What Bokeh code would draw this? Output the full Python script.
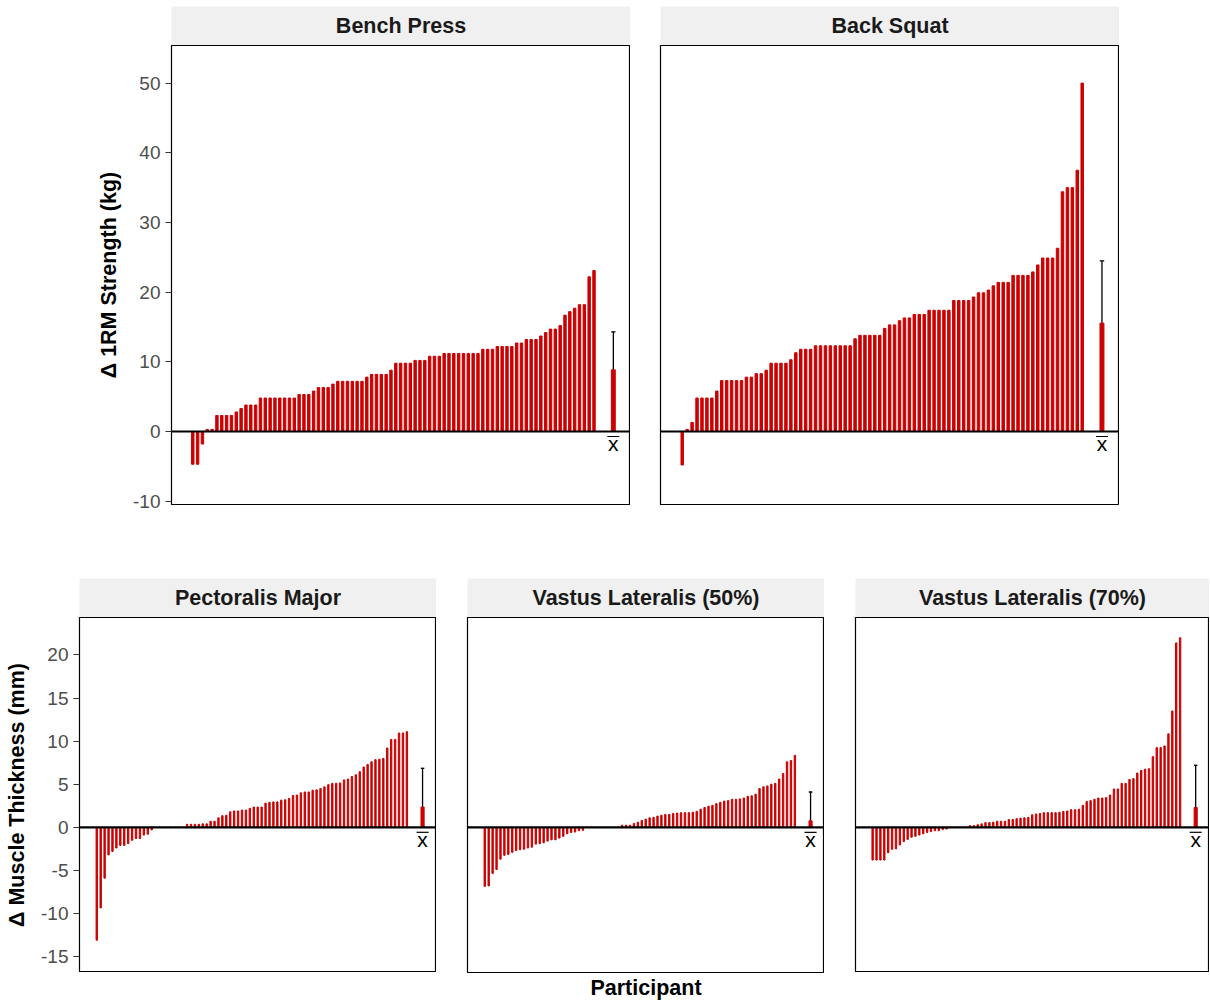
import numpy as np
from bokeh.plotting import figure
from bokeh.layouts import column, row
from bokeh.models import Spacer, FixedTicker, Span
from bokeh.embed import file_html
from bokeh.resources import INLINE
from bokeh.core.properties import value

FONT = "Liberation Sans"
RED = "#CC0000"
STRIP = "#F0F0F0"

# ---------------- data ----------------
bench = ([-4.7, -4.7, -1.8, 0.3, 0.3] + [2.3] * 4 + [2.8, 3.3] + [3.8] * 3 + [4.8] * 8
         + [5.3] * 3 + [5.8] + [6.3] * 3 + [6.8] + [7.2] * 6 + [7.8] + [8.2] * 4 + [8.8]
         + [9.8] * 4 + [10.2] * 3 + [10.8] * 3 + [11.2] * 8 + [11.8] * 3 + [12.2] * 4
         + [12.7] * 2 + [13.2] * 3 + [13.7, 14.2] + [14.7] * 2 + [15.2, 16.7, 17.2, 17.7]
         + [18.2] * 2 + [22.2, 23.1])
squat = ([-4.8, 0.3, 1.3] + [4.8] * 4 + [5.8] + [7.3] * 5 + [7.8] * 2 + [8.3] * 2 + [8.8]
         + [9.8] * 4 + [10.3, 11.3] + [11.8] * 3 + [12.3] * 8 + [13.3] + [13.8] * 5 + [14.8]
         + [15.3] * 2 + [15.9] + [16.3] * 2 + [16.8] * 3 + [17.4] * 5 + [18.8] * 4 + [19.3]
         + [19.9] * 2 + [20.3, 20.9] + [21.4] * 3 + [22.4] * 4 + [22.9, 23.9] + [24.9] * 3
         + [26.3, 34.4, 35.0, 35.0, 37.5, 50.0])
pect = ([-13.1, -9.35, -5.9, -3.2, -2.8, -2.4, -2.1, -2.1, -1.9, -1.5, -1.3, -1.3, -0.9, -0.8, -0.3]
        + [0.0] * 8
        + [0.35, 0.35, 0.35, 0.35, 0.4, 0.4, 0.7, 0.7, 1.1, 1.35, 1.4, 1.8, 1.9, 1.9, 2.0, 2.0, 2.2,
           2.35, 2.35, 2.35, 2.8, 2.9, 2.95, 2.95, 3.15, 3.2, 3.35, 3.7, 3.75, 4.0, 4.1, 4.1, 4.3,
           4.35, 4.5, 4.7, 4.95, 5.1, 5.1, 5.15, 5.5, 5.6, 5.9, 6.1, 6.45, 7.0, 7.3, 7.6, 7.85, 7.9,
           8.0, 9.2, 10.2, 10.2, 10.95, 10.95, 11.1])
vl50 = ([-6.85, -6.8, -5.35, -4.9, -3.7, -3.25, -3.15, -2.9, -2.7, -2.6, -2.55, -2.4, -2.3, -1.95,
         -1.9, -1.8, -1.6, -1.45, -1.45, -1.25, -1.05, -0.75, -0.6, -0.55, -0.4, -0.35]
        + [0.0] * 9
        + [0.25, 0.25, 0.25, 0.45, 0.6, 0.8, 0.95, 1.1, 1.15, 1.3, 1.4, 1.5, 1.5, 1.6, 1.65, 1.7,
           1.7, 1.7, 1.75, 1.85, 2.1, 2.3, 2.45, 2.55, 2.75, 2.9, 3.05, 3.1, 3.25, 3.25, 3.3, 3.4,
           3.6, 3.65, 3.85, 4.5, 4.7, 4.8, 5.0, 5.1, 5.6, 6.25, 7.6, 7.75, 8.35])
vl70 = ([-3.8, -3.8, -3.8, -3.8, -2.95, -2.55, -2.5, -2.05, -1.65, -1.4, -1.15, -1.05, -0.9,
         -0.75, -0.6, -0.5, -0.4, -0.4, -0.25, -0.2]
        + [0.0] * 5
        + [0.2, 0.2, 0.3, 0.4, 0.55, 0.55, 0.6, 0.7, 0.7, 0.7, 0.9, 0.9, 1.0, 1.05, 1.1, 1.15, 1.45,
           1.55, 1.6, 1.7, 1.7, 1.7, 1.7, 1.75, 1.85, 1.9, 2.05, 2.05, 2.1, 2.55, 3.0, 3.1, 3.25,
           3.4, 3.4, 3.45, 3.75, 4.45, 4.45, 5.1, 5.1, 5.55, 5.65, 6.3, 6.6, 6.75, 6.8, 8.2, 9.25,
           9.25, 9.45, 10.85, 13.5, 21.4, 22.0])

strength_titles = ["Bench Press", "Back Squat"]
strength_means = [8.85, 15.55]
strength_upper = [14.3, 24.5]
muscle_titles = ["Pectoralis Major", "Vastus Lateralis (50%)", "Vastus Lateralis (70%)"]
muscle_means = [2.35, 0.75, 2.3]
muscle_upper = [6.85, 4.1, 7.2]

strength_ticks = [-10, 0, 10, 20, 30, 40, 50]
muscle_ticks = [-15, -10, -5, 0, 5, 10, 15, 20]
strength_yrange = (-10.48, 55.4)
muscle_yrange = (-16.85, 24.35)

STRIP_H = 39


def make_strip(title, frame_w, left):
    s = figure(frame_width=frame_w, frame_height=STRIP_H, min_border_left=left, min_border_right=0,
               min_border_top=0, min_border_bottom=0, x_range=(0, 1), y_range=(0, 1),
               x_axis_location=None, y_axis_location=None,
               toolbar_location=None, output_backend="svg")
    s.background_fill_color = STRIP
    s.border_fill_color = "white"
    s.outline_line_color = None
    s.grid.visible = False
    s.text(x=[0.5], y=[0.5], text=[title], text_font=value(FONT), text_font_style="bold",
           text_font_size="21.5px", text_align="center", text_baseline="middle",
           text_color="#1A1A1A")
    return s


def make_panel(vals, mean, upper, frame_w, frame_h, left, yr, yticks, bar_w,
               ylabel=None, xlabel=None, bottom=0):
    n = len(vals)
    xs = np.arange(1, n + 1)
    mx = n + 4
    xr = (1 - 4.4, mx + 3.55)
    p = figure(frame_width=frame_w, frame_height=frame_h, min_border_left=left,
               min_border_right=0, min_border_top=0, min_border_bottom=bottom,
               x_range=xr, y_range=yr,
               x_axis_location=("below" if xlabel else None),
               y_axis_location=("left" if ylabel else None),
               toolbar_location=None, output_backend="svg")
    p.grid.visible = False
    p.outline_line_color = "black"
    p.outline_line_width = 1.2
    p.background_fill_color = "white"
    p.border_fill_color = "white"

    # pixel -> data conversions for the x-bar decoration
    ppu_y = frame_h / (yr[1] - yr[0])
    ppu_x = frame_w / (xr[1] - xr[0])

    p.vbar(x=xs, top=vals, bottom=0, width=bar_w, color=RED)
    p.segment(x0=[mx], y0=[mean], x1=[mx], y1=[upper], line_color="black", line_width=1.3)
    p.segment(x0=[mx - 0.45], y0=[upper], x1=[mx + 0.45], y1=[upper], line_color="black",
              line_width=1.3)
    p.vbar(x=[mx], top=[mean], bottom=0, width=0.8, color=RED)
    p.add_layout(Span(location=0, dimension="width", line_color="black", line_width=2.2))
    # x-bar label below the mean bar
    p.text(x=[mx], y=[0], text=["x"], text_font=value(FONT), text_font_size="21px",
           text_align="center", text_baseline="top", text_color="black", y_offset=1)
    ol_y = -5.0 / ppu_y
    ol_dx = 6.0 / ppu_x
    p.segment(x0=[mx - ol_dx], y0=[ol_y], x1=[mx + ol_dx], y1=[ol_y], line_color="black",
              line_width=1.2)

    if ylabel:
        ax = p.yaxis[0]
        ax.ticker = FixedTicker(ticks=yticks)
        ax.major_label_overrides = {t: str(t) for t in yticks}
        ax.axis_line_color = None
        ax.major_tick_in = 0
        ax.major_tick_out = 6
        ax.minor_tick_out = 0
        ax.minor_tick_in = 0
        ax.major_tick_line_color = "#333333"
        ax.major_label_standoff = 5
        ax.major_label_text_font = FONT
        ax.major_label_text_font_size = "19px"
        ax.major_label_text_color = "#4D4D4D"
        ax.axis_label = ylabel
        ax.axis_label_text_font = FONT
        ax.axis_label_text_font_style = "bold"
        ax.axis_label_text_font_size = "21.5px"
        ax.axis_label_text_color = "black"
        ax.axis_label_standoff = 9
    if xlabel:
        ax = p.xaxis[0]
        ax.ticker = FixedTicker(ticks=[])
        ax.axis_line_color = None
        ax.major_tick_out = 0
        ax.major_tick_in = 0
        ax.minor_tick_out = 0
        ax.minor_tick_in = 0
        ax.major_label_standoff = 0
        ax.axis_label = xlabel
        ax.axis_label_text_font = FONT
        ax.axis_label_text_font_style = "bold"
        ax.axis_label_text_font_size = "21.5px"
        ax.axis_label_text_color = "black"
        ax.axis_label_standoff = 3
    return p


TOP_W, TOP_H = 459, 459
BOT_H = 355
BOT_WIDTHS = [357, 357, 354]
TOP_LEFTS = [171, 30]
BOT_LEFTS = [79, 31, 31]
TOP_BOTTOM_BORDER = 12

top_cols = []
for i, (vals, title) in enumerate(zip([bench, squat], strength_titles)):
    st = make_strip(title, TOP_W, TOP_LEFTS[i])
    pn = make_panel(vals, strength_means[i], strength_upper[i], TOP_W, TOP_H, TOP_LEFTS[i],
                    strength_yrange, strength_ticks, 0.5,
                    ylabel=("\u0394 1RM Strength (kg)" if i == 0 else None),
                    bottom=TOP_BOTTOM_BORDER)
    top_cols.append(column(st, pn))

bot_cols = []
for i, (vals, title) in enumerate(zip([pect, vl50, vl70], muscle_titles)):
    st = make_strip(title, BOT_WIDTHS[i], BOT_LEFTS[i])
    pn = make_panel(vals, muscle_means[i], muscle_upper[i], BOT_WIDTHS[i], BOT_H, BOT_LEFTS[i],
                    muscle_yrange, muscle_ticks, 0.35,
                    ylabel=("\u0394 Muscle Thickness (mm)" if i == 0 else None),
                    xlabel=("Participant" if i == 1 else None))
    bot_cols.append(column(st, pn))

gap = 578 - (6 + STRIP_H + TOP_H + TOP_BOTTOM_BORDER)
layout = column(Spacer(height=6), row(*top_cols), Spacer(height=gap), row(*bot_cols))

open("out.html", "w").write(file_html(layout, INLINE))
